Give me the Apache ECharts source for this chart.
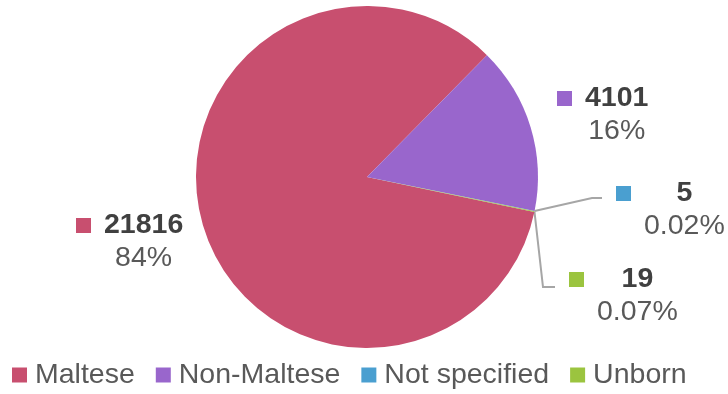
<!DOCTYPE html>
<html>
<head>
<meta charset="utf-8">
<script src="https://cdn.jsdelivr.net/npm/echarts@6/dist/echarts.min.js"></script>
<style>
  html, body { margin: 0; padding: 0; background: #fff; }
  #chart { width: 728px; height: 394px; }
</style>
</head>
<body>
<div id="chart"></div>
<script>
const categories = ['Maltese', 'Non-Maltese', 'Not specified', 'Unborn'];
const values = [21816, 4101, 5, 19];
const colors = ['#C84F6F', '#9966CC', '#4A9FD0', '#9BC43F'];

const total = values.reduce((a, b) => a + b, 0);
const pctText = (v) => {
  const p = v / total * 100;
  return p >= 1 ? Math.round(p) + '%' : p.toFixed(2) + '%';
};

// where each label block sits (top-left) and the bends of the leader lines
const labelPos = [[76, 209], [557, 82], [616, 177], [569, 263]];
const guideBends = {
  2: [[592, 198], [602, 198]],
  3: [[543, 287], [555, 287]]
};

const rich = {
  g: { width: 13, lineHeight: 33, align: 'left' },
  sp: { width: 28, lineHeight: 33, align: 'left' },
  v: { fontSize: 28.5, fontWeight: 'bold', color: '#404040', lineHeight: 33, align: 'center', fontFamily: 'Liberation Sans, Arial, sans-serif' },
  p: { fontSize: 28.5, color: '#595959', lineHeight: 33, align: 'center', fontFamily: 'Liberation Sans, Arial, sans-serif' }
};
colors.forEach((c, i) => {
  rich['sq' + i] = { width: 15, height: 15, lineHeight: 33, backgroundColor: c, align: 'left' };
});

const chart = echarts.init(document.getElementById('chart'));

chart.setOption({
  animation: false,
  color: colors,
  legend: {
    data: categories,
    left: 12,
    top: 360,
    padding: 0,
    icon: 'rect',
    itemWidth: 15,
    itemHeight: 15,
    itemGap: 21,
    textStyle: {
      fontSize: 28.5,
      color: '#595959',
      lineHeight: 30,
      padding: [0, 0, 0, 3],
      fontFamily: 'Liberation Sans, Arial, sans-serif'
    }
  },
  series: [
    {
      type: 'pie',
      center: [367, 177],
      radius: 171,
      startAngle: -11.8,
      clockwise: true,
      avoidLabelOverlap: false,
      silent: true,
      emphasis: { disabled: true },
      itemStyle: { borderWidth: 0 },
      label: {
        show: true,
        position: 'outside',
        formatter: (p) => `{sq${p.dataIndex}|}{g|}{v|${p.value}}\n{sp|}{p|${pctText(p.value)}}`,
        rich: rich
      },
      labelLine: {
        show: false,
        lineStyle: { color: '#A6A6A6', width: 2 }
      },
      labelLayout: (params) => {
        const i = params.dataIndex;
        const out = {
          x: labelPos[i][0],
          y: labelPos[i][1],
          align: 'left',
          verticalAlign: 'top'
        };
        if (guideBends[i] && params.labelLinePoints) {
          out.labelLinePoints = [params.labelLinePoints[0]].concat(guideBends[i]);
        }
        return out;
      },
      data: categories.map((name, i) => ({
        name: name,
        value: values[i],
        labelLine: { show: !!guideBends[i] }
      }))
    }
  ]
});
</script>
</body>
</html>
